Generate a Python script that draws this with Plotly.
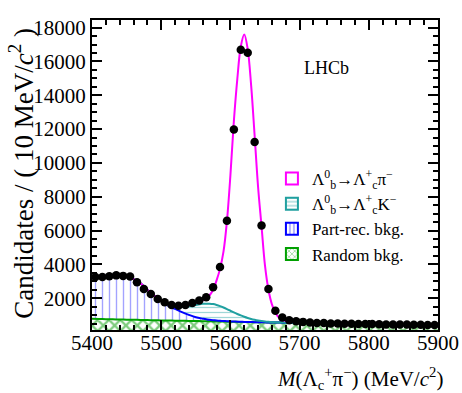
import plotly.graph_objects as go

# ---- data ----
bin_centers = list(range(5405, 5900, 10))
counts = [3250, 3250, 3300, 3350, 3320, 3280, 2950, 2550, 2250, 1950,
          1760, 1600, 1560, 1600, 1715, 1860, 2050, 2650, 3840, 6580,
          11980, 16690, 16510, 11230, 6300, 2550, 1260, 860, 700, 640,
          600, 560, 540, 530, 510, 500, 490, 490, 480, 470,
          470, 460, 450, 450, 440, 440, 430, 430, 420, 420]

curve_x = list(range(5400, 5561, 10)) + list(range(5565, 5681, 5)) + list(range(5690, 5901, 10))

random_bkg = [780, 770, 761, 752, 742, 733, 724, 715, 706, 697, 689, 680, 672, 664, 656, 648, 640,
              636, 632, 628, 624, 620, 617, 613, 609, 605, 601, 598, 594, 590, 587, 583, 579, 576, 572,
              569, 565, 562, 558, 555, 551,
              544, 538, 531, 525, 518, 512, 506, 500, 493, 487, 482, 476, 470, 464, 458, 453, 447, 442,
              436, 431, 426, 421]
partrec_bkg = [2480, 2520, 2560, 2590, 2590, 2540, 2400, 2170, 1800, 1460, 1150, 880, 700, 510, 360, 230, 150,
               115, 92, 73, 57, 44, 34, 26, 20, 15, 11, 8, 6, 4, 3, 2, 1, 0, 0, 0, 0, 0, 0, 0, 0,
               ] + [0] * 22
lcK = [0, 0, 0, 0, 0, 0, 0, 0, 0, 0, 10, 60, 160, 320, 520, 720, 880,
       920, 950, 950, 920, 870, 800, 720, 630, 540, 455, 375, 300, 235, 180, 135, 98, 70, 48, 32, 20,
       12, 7, 4, 2] + [0] * 22
lcpi = [0, 0, 0, 0, 0, 0, 0, 0, 0, 0, 10, 15, 25, 40, 60, 110, 210,
        310, 500, 850, 1450, 2200, 3300, 5200, 8000, 11300, 13900, 15900, 16700, 15900, 13800, 10900,
        7900, 5600, 3300, 1900, 1050, 560, 300, 170, 100,
        45, 20, 10, 5] + [0] * 18

names = ["Λ<sup>0</sup><sub>b</sub>→Λ<sup>+</sup><sub>c</sub>π<sup>−</sup>",
         "Λ<sup>0</sup><sub>b</sub>→Λ<sup>+</sup><sub>c</sub>K<sup>−</sup>",
         "Part-rec. bkg.",
         "Random bkg."]

# stacked levels
lvl1 = random_bkg
lvl2 = [a + b for a, b in zip(lvl1, partrec_bkg)]
lvl3 = [a + b for a, b in zip(lvl2, lcK)]
total = [a + b for a, b in zip(lvl3, lcpi)]

FONT = "Liberation Serif"
GREEN, BLUE, TEAL, MAG = "#00a000", "#0000ff", "#20a0a0", "#ff00ff"
fig = go.Figure()

fig.add_trace(go.Scatter(x=curve_x, y=lvl1, mode="lines", line=dict(color=GREEN, width=2, shape="spline"),
                         fill="tozeroy", fillcolor="rgba(0,0,0,0)",
                         fillpattern=dict(shape="x", fgcolor="#009a00", bgcolor="rgba(0,0,0,0)", size=8, solidity=0.5),
                         showlegend=False))
fig.add_trace(go.Scatter(x=curve_x, y=lvl2, mode="lines", line=dict(color=BLUE, width=2, shape="spline"),
                         fill="tonexty", fillcolor="rgba(0,0,0,0)",
                         fillpattern=dict(shape="|", fgcolor="#4848ff", bgcolor="rgba(0,0,0,0)", size=7, solidity=0.2),
                         showlegend=False))
fig.add_trace(go.Scatter(x=curve_x, y=lvl3, mode="lines", line=dict(color=TEAL, width=2, shape="spline"),
                         fill="tonexty", fillcolor="rgba(0,0,0,0)",
                         fillpattern=dict(shape="-", fgcolor="#40b0b0", bgcolor="rgba(0,0,0,0)", size=5, solidity=0.25),
                         showlegend=False))
fig.add_trace(go.Scatter(x=curve_x, y=total, mode="lines", line=dict(color=MAG, width=2, shape="spline"),
                         showlegend=False))
fig.add_trace(go.Scatter(x=bin_centers, y=counts, mode="markers",
                         marker=dict(color="black", size=8.5), showlegend=False))

# legend entries (boxes with the same hatch styles)
legend_styles = [(MAG, ""), (TEAL, "-"), (BLUE, "|"), (GREEN, "x")]
for nm, (col, shp) in zip(names, legend_styles):
    fig.add_trace(go.Bar(x=[None], y=[None], name=nm,
                         marker=dict(color="rgba(255,255,255,0)", line=dict(color=col, width=2),
                                     pattern=dict(shape=shp, fgcolor=col, bgcolor="rgba(255,255,255,0)",
                                                  size=5, solidity=0.3))))

axis_common = dict(showline=True, linecolor="black", linewidth=2, mirror="ticks",
                   ticks="inside", tickcolor="black", tickwidth=1.5, ticklen=10,
                   showgrid=False, zeroline=False, automargin=False,
                   tickfont=dict(family=FONT, size=21, color="black"))
fig.update_xaxes(range=[5400, 5900], dtick=100, tickformat="d", ticklabelstandoff=-7,
                 minor=dict(ticks="inside", dtick=20, ticklen=5, tickcolor="black", tickwidth=1.5),
                 **axis_common)
fig.update_yaxes(range=[120, 18450], tick0=0, dtick=2000, tickformat="d",
                 minor=dict(ticks="inside", dtick=500, ticklen=5, tickcolor="black", tickwidth=1.5),
                 **axis_common)

fig.update_layout(
    width=462, height=393,
    margin=dict(l=92, r=24, t=20, b=63),
    paper_bgcolor="white", plot_bgcolor="white",
    font=dict(family=FONT, color="black"),
    showlegend=True,
    legend=dict(x=0.52, y=0.545, xanchor="left", yanchor="top", bgcolor="rgba(0,0,0,0)",
                font=dict(family=FONT, size=17, color="black"), traceorder="normal",
                tracegroupgap=0),
    annotations=[
        dict(text="LHCb", x=0.679, y=0.845, xref="paper", yref="paper", showarrow=False,
             xanchor="center", yanchor="middle",
             font=dict(family=FONT, size=18, color="black")),
        dict(text="Candidates / ( 10 MeV/<i>c</i><sup>2</sup> )", textangle=-90,
             x=-0.205, y=0.98, xref="paper", yref="paper", xanchor="center", yanchor="top",
             showarrow=False, font=dict(family=FONT, size=27, color="black")),
        dict(text="<i>M</i>(Λ<sub>c</sub><sup>+</sup>π<sup>−</sup>) (MeV/<i>c</i><sup>2</sup>)",
             x=1.02, y=-0.158, xref="paper", yref="paper", xanchor="right", yanchor="middle",
             showarrow=False, font=dict(family=FONT, size=21, color="black")),
    ],
)

fig.write_html("out.html", post_script="document.body.style.margin='0';",
               config={"displayModeBar": False})
